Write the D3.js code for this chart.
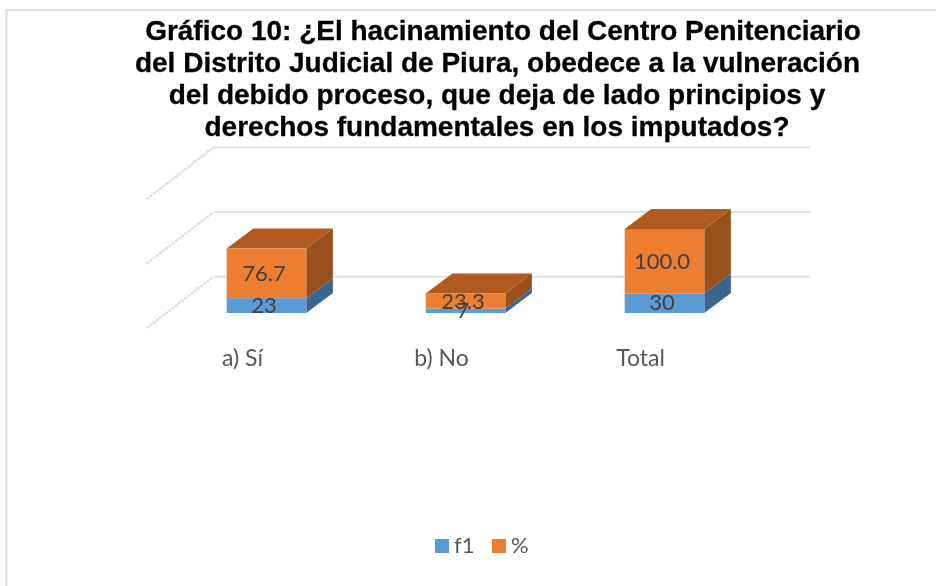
<!DOCTYPE html>
<html>
<head>
<meta charset="utf-8">
<script src="https://cdnjs.cloudflare.com/ajax/libs/d3/7.8.5/d3.min.js"></script>
<style>
html,body{margin:0;padding:0;background:#fff;}
svg{display:block;filter:blur(0.4px);}
</style>
</head>
<body>
<script>
const titleLines = [
  "Gráfico 10: ¿El hacinamiento del Centro Penitenciario",
  "del Distrito Judicial de Piura, obedece a la vulneración",
  "del debido proceso, que deja de lado principios y",
  "derechos fundamentales en los imputados?"
];
const categories = ["a) Sí", "b) No", "Total"];
const f1Values = [23, 7, 30];
const pctValues = [76.7, 23.3, 100.0];
const gridTicks = [0, 100, 200];
const seriesNames = ["f1", "%"];

const W = 936, H = 586;
const svg = d3.select("body").append("svg").attr("width", W).attr("height", H);
svg.append("rect").attr("width", W).attr("height", H).attr("fill", "#fff");

// frame
const frame = svg.append("g").attr("fill", "none").attr("stroke", "#dedede").attr("stroke-width", 2);
frame.append("path").attr("d", d3.line()([[6.5, H], [6.5, 10], [W, 10]]));

// title
const titleX = [503, 497.5, 497, 497];
const titleY = [40, 72, 104, 136];
svg.append("g").selectAll("text").data(titleLines).join("text")
  .attr("x", (d, i) => titleX[i]).attr("y", (d, i) => titleY[i])
  .attr("text-anchor", "middle")
  .attr("font-family", "'Liberation Sans', Arial, sans-serif")
  .attr("font-weight", "bold").attr("font-size", 28).attr("fill", "#000")
  .attr("stroke", "#000").attr("stroke-width", 0.3)
  .text(d => d);

// scales
const x = d3.scaleBand().domain(categories).range([167, 764]).paddingInner(0.6).paddingOuter(0.3);
const y = d3.scaleLinear().domain([0, 100]).range([313, 248.4]);
const depthX = 26.6, depthY = 20;
const gridDepthBack = 36.3;
const wallY = v => y(v) - gridDepthBack;

// gridlines
const grid = svg.append("g").attr("fill", "none");
grid.selectAll("line.h").data(gridTicks).join("line").attr("class", "h")
  .attr("x1", 213.5).attr("x2", 810)
  .attr("y1", d => wallY(d)).attr("y2", d => wallY(d))
  .attr("stroke", "#e2e2e2").attr("stroke-width", 2);
grid.selectAll("line.d").data(gridTicks).join("line").attr("class", "d")
  .attr("x1", 146.5).attr("x2", 213.5)
  .attr("y1", d => wallY(d) + 51.6).attr("y2", d => wallY(d))
  .attr("stroke", "#dcdcdc").attr("stroke-width", 2).attr("stroke-dasharray", "3 1");

// bars
const colors = {
  f1: {front: "#5b9bd5", top: "#4a7fb0", side: "#3a6690"},
  pct: {front: "#ed7d31", top: "#b05a20", side: "#98511c"}
};
function poly(g, pts, fill) {
  g.append("polygon").attr("points", pts.map(p => p.join(",")).join(" ")).attr("fill", fill);
}
function box(g, x0, w, v0, v1, c, drawTop) {
  const yb = y(v0), yt = y(v1), x1 = x0 + w;
  poly(g, [[x1, yb], [x1 + depthX, yb - depthY], [x1 + depthX, yt - depthY], [x1, yt]], c.side);
  if (drawTop) poly(g, [[x0, yt], [x0 + depthX, yt - depthY], [x1 + depthX, yt - depthY], [x1, yt]], c.top);
  g.append("rect").attr("x", x0).attr("y", yt).attr("width", w).attr("height", yb - yt).attr("fill", c.front);
}
const bars = svg.append("g");
categories.forEach((cat, i) => {
  const g = bars.append("g");
  const x0 = x(cat), w = x.bandwidth();
  box(g, x0, w, 0, f1Values[i], colors.f1, false);
  box(g, x0, w, f1Values[i], f1Values[i] + pctValues[i], colors.pct, true);
});

// data labels
const labelFont = "Lato, 'Open Sans', sans-serif";
const labels = svg.append("g").attr("font-family", labelFont).attr("font-size", 22)
  .attr("fill", "#404040").attr("text-anchor", "middle");
categories.forEach((cat, i) => {
  const cx = x(cat) + x.bandwidth() / 2 - 2.5;
  const f = f1Values[i], p = pctValues[i];
  labels.append("text").attr("x", cx).attr("y", y(f / 2) + 7).text(d3.format("d")(f));
  labels.append("text").attr("x", cx).attr("y", y(f + p / 2) + 8).text(d3.format(".1f")(p));
});

// category labels
svg.append("g").selectAll("text").data(categories).join("text")
  .attr("x", d => x(d) + x.bandwidth() / 2 - 24)
  .attr("y", 366)
  .attr("text-anchor", "middle").attr("font-family", labelFont).attr("font-size", 23)
  .attr("fill", "#595959").text(d => d);

// legend
const legendX = [435, 492];
const legendColors = [colors.f1.front, colors.pct.front];
const legend = svg.append("g");
seriesNames.forEach((n, i) => {
  legend.append("rect").attr("x", legendX[i]).attr("y", 539).attr("width", 14).attr("height", 14).attr("fill", legendColors[i]);
  legend.append("text").attr("x", legendX[i] + 19).attr("y", 553)
    .attr("font-family", labelFont).attr("font-size", 22).attr("fill", "#595959").text(n);
});
</script>
</body>
</html>
